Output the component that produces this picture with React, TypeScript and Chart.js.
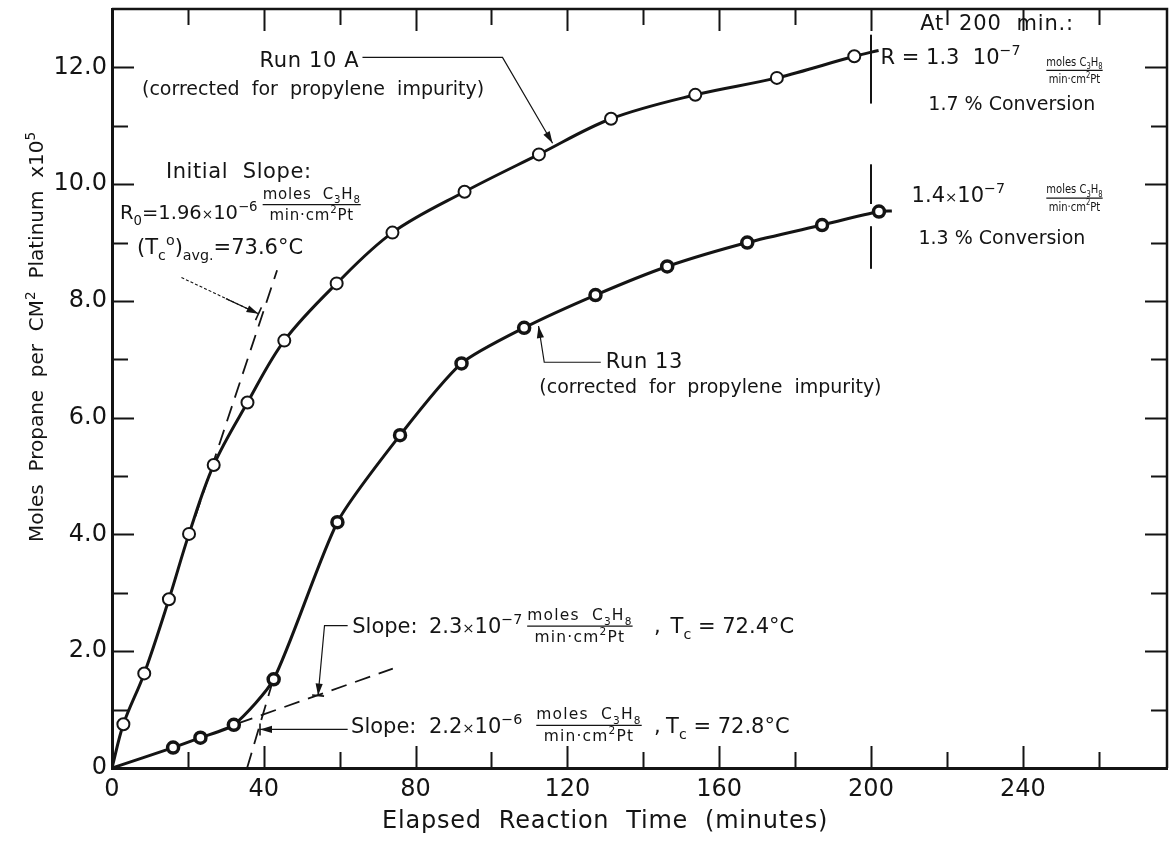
import React, { useEffect, useRef } from "react";
import { Chart, registerables } from "chart.js";

Chart.register(...registerables);

const FONT = '"DejaVu Sans", sans-serif';
const INK = "#141414";

// Run 10 A, corrected for propylene impurity (moles propane per cm² Pt × 10⁵)
const run10aTime = [3, 8.5, 15, 20.3, 26.8, 35.7, 45.4, 59.2, 73.9, 92.9, 112.5, 131.5, 153.7, 175.2, 195.6];
const run10aMoles = [0.75, 1.62, 2.89, 4.01, 5.19, 6.26, 7.32, 8.3, 9.17, 9.87, 10.51, 11.12, 11.53, 11.82, 12.19];

// Run 13, corrected for propylene impurity
const run13Time = [16.1, 23.3, 32.1, 42.6, 59.4, 75.9, 92.1, 108.6, 127.4, 146.3, 167.4, 187.1, 202.1];
const run13Moles = [0.35, 0.52, 0.74, 1.52, 4.21, 5.7, 6.93, 7.54, 8.1, 8.59, 9.0, 9.3, 9.53];

// where the hand-drawn curves stop
const run10aCurveEnd = [202, 12.29];
const run13CurveEnd = [205.5, 9.54];

// quoted rates in axis units (×10⁵ per minute) and the stretch each dashed line covers
const run10aInitialSlope = 0.196;
const run10aInitialSpan = [22, 43.5];
const run13InitialSlope = 0.023;
const run13InitialSpan = [33, 74];
const run13SteepSlope = 0.22;
const run13SteepSpan = [35.6, 42.3];

// vertical markers at 200 min
const markerTime = 200;
const markerSpans = [
  [11.38, 12.56],
  [9.66, 10.34],
  [8.55, 9.28],
];

const xTickValues = [0, 40, 80, 120, 160, 200, 240];
const xTickLabels = ["0", "40", "80", "120", "160", "200", "240"];
const yTickValues = [0, 2, 4, 6, 8, 10, 12];
const yTickLabels = ["0", "2.0", "4.0", "6.0", "8.0", "10.0", "12.0"];

const X_MAX = 278;
const Y_MAX = 13;

type Part = [string, string?];

const pts = (ts: number[], vs: number[]) => ts.map((t, i) => ({ x: t, y: vs[i] }));
const slopeLine = (slope: number, t0: number, span: number[]) =>
  span.map((t) => ({ x: t, y: slope * (t - t0) }));

function partFont(size: number, mode?: string) {
  const s = mode === "sup" || mode === "sub" ? size * 0.68 : mode === "x" ? size * 0.7 : size;
  const dy = mode === "sup" ? -size * 0.42 : mode === "sub" ? size * 0.3 : 0;
  return { s, dy };
}

function measureParts(ctx: CanvasRenderingContext2D, parts: Part[], size: number, spacing: number) {
  let w = 0;
  for (const [txt, mode] of parts) {
    const { s } = partFont(size, mode);
    ctx.font = `${s}px ${FONT}`;
    (ctx as any).letterSpacing = `${spacing}px`;
    w += ctx.measureText(txt).width;
  }
  return w;
}

function drawParts(ctx: CanvasRenderingContext2D, x: number, y: number, parts: Part[], size: number, spacing = 1) {
  let cx = x;
  for (const [txt, mode] of parts) {
    const { s, dy } = partFont(size, mode);
    ctx.font = `${s}px ${FONT}`;
    (ctx as any).letterSpacing = `${spacing}px`;
    ctx.fillText(txt, cx, y + dy);
    cx += ctx.measureText(txt).width;
  }
  return cx;
}

const molesNum: Part[] = [["moles  C"], ["3", "sub"], ["H"], ["8", "sub"]];
const molesDen: Part[] = [["min·cm"], ["2", "sup"], ["Pt"]];
const molesNumTight: Part[] = [["moles C"], ["3", "sub"], ["H"], ["8", "sub"]];

// "moles C3H8 / min·cm²Pt" written as a stacked fraction; squeeze narrows the lettering
function drawFraction(
  ctx: CanvasRenderingContext2D,
  x: number,
  yLine: number,
  size: number,
  spacing: number,
  squeeze = 1,
  num: Part[] = molesNum
) {
  ctx.save();
  ctx.translate(x, yLine);
  ctx.scale(squeeze, 1);
  const wn = measureParts(ctx, num, size, spacing);
  const wd = measureParts(ctx, molesDen, size, spacing);
  const w = Math.max(wn, wd);
  drawParts(ctx, (w - wn) / 2, -size * 0.38, num, size, spacing);
  drawParts(ctx, (w - wd) / 2, size * 1.0, molesDen, size, spacing);
  ctx.restore();
  ctx.lineWidth = 1.3;
  ctx.beginPath();
  ctx.moveTo(x, yLine);
  ctx.lineTo(x + w * squeeze, yLine);
  ctx.stroke();
}

function arrow(ctx: CanvasRenderingContext2D, path: number[][], bar = 0) {
  ctx.lineWidth = 1.2;
  ctx.beginPath();
  ctx.moveTo(path[0][0], path[0][1]);
  for (let i = 1; i < path.length; i++) ctx.lineTo(path[i][0], path[i][1]);
  ctx.stroke();
  const [x1, y1] = path[path.length - 2];
  const [x2, y2] = path[path.length - 1];
  const a = Math.atan2(y2 - y1, x2 - x1);
  const c = Math.cos(a);
  const s = Math.sin(a);
  const head = 12;
  const half = 3.6;
  ctx.beginPath();
  ctx.moveTo(x2, y2);
  ctx.lineTo(x2 - head * c + half * s, y2 - head * s - half * c);
  ctx.lineTo(x2 - head * c - half * s, y2 - head * s + half * c);
  ctx.closePath();
  ctx.fill();
  if (bar) {
    ctx.lineWidth = 1.6;
    ctx.beginPath();
    ctx.moveTo(x2 - (bar / 2) * s, y2 + (bar / 2) * c);
    ctx.lineTo(x2 + (bar / 2) * s, y2 - (bar / 2) * c);
    ctx.stroke();
  }
}

const annotate = {
  id: "annotate",
  afterDatasetsDraw(chart: any) {
    const ctx: CanvasRenderingContext2D = chart.ctx;
    const xs = chart.scales.x;
    const ys = chart.scales.y;
    const X = (t: number) => xs.getPixelForValue(t);
    const Y = (v: number) => ys.getPixelForValue(v);
    const { left, right, top, bottom } = chart.chartArea;

    ctx.save();
    ctx.strokeStyle = INK;
    ctx.fillStyle = INK;
    ctx.lineCap = "butt";

    // frame: top and right edges
    ctx.lineWidth = 2.5;
    ctx.beginPath();
    ctx.moveTo(left, top);
    ctx.lineTo(right, top);
    ctx.lineTo(right, bottom);
    ctx.stroke();

    // inward tick marks on all four sides
    ctx.lineWidth = 2;
    for (let t = 20; t < X_MAX; t += 20) {
      const len = xTickValues.includes(t) ? 22 : 16;
      const x = Math.round(X(t)) + 0.5;
      ctx.beginPath();
      ctx.moveTo(x, bottom);
      ctx.lineTo(x, bottom - len);
      ctx.moveTo(x, top);
      ctx.lineTo(x, top + len);
      ctx.stroke();
    }
    for (let v = 1; v < Y_MAX; v += 1) {
      const len = yTickValues.includes(v) ? 22 : 16;
      const y = Math.round(Y(v)) + 0.5;
      ctx.beginPath();
      ctx.moveTo(left, y);
      ctx.lineTo(left + len, y);
      ctx.moveTo(right, y);
      ctx.lineTo(right - len, y);
      ctx.stroke();
    }

    ctx.textBaseline = "alphabetic";
    ctx.textAlign = "left";

    // axis titles
    drawParts(ctx, left + 270, bottom + 60, [["Elapsed  Reaction  Time  (minutes)"]], 24, 0.8);
    ctx.save();
    ctx.translate(left - 69, bottom - 226);
    ctx.rotate(-Math.PI / 2);
    drawParts(ctx, 0, 0, [["Moles  Propane  per  CM"], ["2", "sup"], ["  Platinum  x"], ["10"], ["5", "sup"]], 20, 0);
    ctx.restore();

    // Run 10 A label and leader
    drawParts(ctx, X(38.9), Y(12.01), [["Run 10 A"]], 21, 0.6);
    drawParts(ctx, X(7.9), Y(11.53), [["(corrected  for  propylene  impurity)"]], 19, 0);
    arrow(ctx, [
      [X(66.0), Y(12.17)],
      [X(102.9), Y(12.17)],
      [X(116.1), Y(10.7)],
    ]);

    // initial slope of Run 10 A
    drawParts(ctx, X(14.2), Y(10.11), [["Initial  Slope:"]], 21, 0.6);
    drawParts(ctx, X(2.1), Y(9.4), [["R"], ["0", "sub"], ["=1.96"], ["×", "x"], ["10"], ["−6", "sup"]], 19.5, 0);
    drawFraction(ctx, X(39.7), Y(9.65), 15, 0.8);
    drawParts(ctx, X(6.6), Y(8.81), [["(T"], ["c", "sub"], ["o", "sup"], [")"], ["avg.", "sub"], ["=73.6°C"]], 21, 0);
    ctx.setLineDash([3, 2]);
    ctx.lineWidth = 1.1;
    ctx.beginPath();
    ctx.moveTo(X(18.3), Y(8.4));
    ctx.lineTo(X(36.6), Y(7.84));
    ctx.stroke();
    ctx.setLineDash([]);
    arrow(ctx, [
      [X(30.0), Y(8.04)],
      [X(38.6), Y(7.78)],
    ], 14);

    // values at 200 min
    drawParts(ctx, X(213), Y(12.64), [["At  200  min.:"]], 21, 0.8);
    drawParts(ctx, X(202.5), Y(12.06), [["R = 1.3  10"], ["−7", "sup"]], 21, 0);
    drawFraction(ctx, X(246.2), Y(11.95), 12.5, 0, 0.8, molesNumTight);
    drawParts(ctx, X(215.1), Y(11.27), [["1.7 % Conversion"]], 19, 0);
    drawParts(ctx, X(210.7), Y(9.7), [["1.4"], ["×", "x"], ["10"], ["−7", "sup"]], 21, 0);
    drawFraction(ctx, X(246.2), Y(9.76), 12.5, 0, 0.8, molesNumTight);
    drawParts(ctx, X(212.5), Y(8.97), [["1.3 % Conversion"]], 19, 0);

    // Run 13 label and leader
    drawParts(ctx, X(130.1), Y(6.85), [["Run 13"]], 21, 0.6);
    drawParts(ctx, X(112.6), Y(6.42), [["(corrected  for  propylene  impurity)"]], 19, 0);
    arrow(ctx, [
      [X(128.8), Y(6.95)],
      [X(113.9), Y(6.95)],
      [X(112.4), Y(7.57)],
    ]);

    // Run 13 slopes
    drawParts(ctx, X(63.3), Y(2.31), [["Slope:"]], 21, 0);
    drawParts(ctx, X(83.5), Y(2.31), [["2.3"], ["×", "x"], ["10"], ["−7", "sup"]], 21, 0);
    drawFraction(ctx, X(109.4), Y(2.43), 15.5, 1.2);
    drawParts(ctx, X(142.8), Y(2.31), [[","]], 21, 0);
    drawParts(ctx, X(147.2), Y(2.31), [["T"], ["c", "sub"], [" = 72.4°C"]], 21, 0);
    arrow(ctx, [
      [X(62.1), Y(2.44)],
      [X(56.0), Y(2.44)],
      [X(54.3), Y(1.24)],
    ], 12);

    drawParts(ctx, X(63.0), Y(0.6), [["Slope:"]], 21, 0);
    drawParts(ctx, X(83.5), Y(0.6), [["2.2"], ["×", "x"], ["10"], ["−6", "sup"]], 21, 0);
    drawFraction(ctx, X(111.8), Y(0.73), 15.5, 1.2);
    drawParts(ctx, X(142.8), Y(0.6), [[","]], 21, 0);
    drawParts(ctx, X(146.0), Y(0.6), [["T"], ["c", "sub"], [" = 72.8°C"]], 21, 0);
    arrow(ctx, [
      [X(62.1), Y(0.66)],
      [X(39.0), Y(0.66)],
    ], 12);

    ctx.restore();
  },
};

export default function App() {
  const ref = useRef<HTMLCanvasElement>(null);

  useEffect(() => {
    const canvas = ref.current;
    if (!canvas) return;

    const curveStyle = {
      showLine: true,
      pointRadius: 0,
      borderColor: INK,
      borderWidth: 3,
      fill: false,
      order: 3,
    };
    const dashStyle = {
      showLine: true,
      pointRadius: 0,
      borderColor: INK,
      borderWidth: 1.8,
      borderDash: [16, 9],
      fill: false,
      order: 4,
    };

    const datasets: any[] = [
      {
        label: "Run 10 A",
        data: pts(run10aTime, run10aMoles),
        showLine: false,
        pointRadius: 6,
        pointBorderWidth: 2,
        pointBackgroundColor: "#ffffff",
        pointBorderColor: INK,
        order: 0,
      },
      {
        label: "Run 13",
        data: pts(run13Time, run13Moles),
        showLine: false,
        pointRadius: 5.5,
        pointBorderWidth: 3.5,
        pointBackgroundColor: "#ffffff",
        pointBorderColor: INK,
        order: 0,
      },
      {
        label: "Run 10 A curve",
        data: [{ x: 0, y: 0 }, ...pts(run10aTime, run10aMoles), { x: run10aCurveEnd[0], y: run10aCurveEnd[1] }],
        tension: 0.35,
        ...curveStyle,
      },
      {
        label: "Run 13 curve",
        data: [{ x: 0, y: 0 }, ...pts(run13Time, run13Moles), { x: run13CurveEnd[0], y: run13CurveEnd[1] }],
        tension: 0.22,
        ...curveStyle,
      },
      { label: "Run 10 A initial slope", data: slopeLine(run10aInitialSlope, 0, run10aInitialSpan), ...dashStyle },
      { label: "Run 13 initial slope", data: slopeLine(run13InitialSlope, 0, run13InitialSpan), ...dashStyle },
      {
        label: "Run 13 steep slope",
        data: slopeLine(run13SteepSlope, run13SteepSpan[0], run13SteepSpan),
        ...dashStyle,
      },
      ...markerSpans.map((span) => ({
        label: "200 min marker",
        data: span.map((v) => ({ x: markerTime, y: v })),
        showLine: true,
        pointRadius: 0,
        borderColor: INK,
        borderWidth: 2,
        fill: false,
        order: 2,
      })),
    ];

    // unlabelled ticks return null so they take no room in the layout
    const tickLabel = (values: number[], labels: string[]) => (value: number) => {
      const i = values.findIndex((v) => Math.abs(v - value) < 1e-6);
      return i >= 0 ? labels[i] : null;
    };

    const chart = new Chart(canvas, {
      type: "scatter",
      data: { datasets },
      options: {
        responsive: false,
        animation: false,
        devicePixelRatio: 1,
        layout: { padding: { top: 7, right: 7, left: 0, bottom: 0 } },
        plugins: {
          legend: { display: false },
          tooltip: { enabled: false },
        },
        scales: {
          x: {
            type: "linear",
            min: 0,
            max: X_MAX,
            afterFit: (s: any) => {
              s.height = 75;
              s.paddingLeft = 0;
              s.paddingRight = 0;
            },
            ticks: {
              stepSize: 20,
              includeBounds: false,
              autoSkip: false,
              maxRotation: 0,
              padding: 7,
              color: INK,
              font: { family: FONT, size: 24 },
              callback: tickLabel(xTickValues, xTickLabels),
            },
            grid: { drawOnChartArea: false, drawTicks: false },
            border: { display: true, color: INK, width: 3 },
          },
          y: {
            type: "linear",
            min: 0,
            max: Y_MAX,
            afterFit: (s: any) => {
              s.width = 112;
              s.paddingTop = 0;
              s.paddingBottom = 0;
            },
            ticks: {
              stepSize: 1,
              autoSkip: false,
              padding: 5,
              color: INK,
              font: { family: FONT, size: 24 },
              callback: tickLabel(yTickValues, yTickLabels),
            },
            grid: { drawOnChartArea: false, drawTicks: false },
            border: { display: true, color: INK, width: 3 },
          },
        },
      } as any,
      plugins: [annotate],
    });

    return () => chart.destroy();
  }, []);

  return (
    <div style={{ position: "fixed", left: 0, top: 0, width: 1176, height: 843, background: "#ffffff" }}>
      <canvas ref={ref} width={1176} height={843} style={{ display: "block", width: 1176, height: 843 }} />
    </div>
  );
}
